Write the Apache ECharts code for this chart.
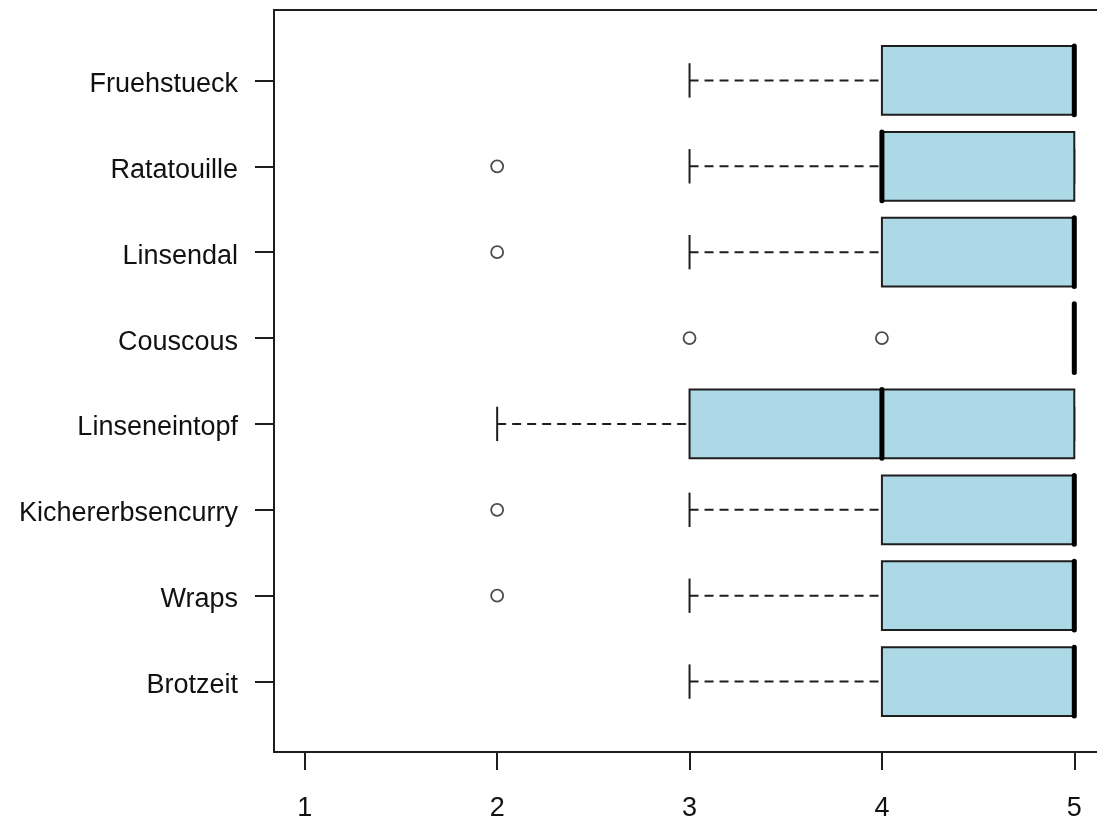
<!DOCTYPE html>
<html>
<head>
<meta charset="utf-8">
<script src="https://cdn.jsdelivr.net/npm/echarts@6/dist/echarts.min.js"></script>
<style>
  html, body { margin: 0; padding: 0; background: #ffffff; }
  #chart { width: 1097px; height: 822px; }
</style>
</head>
<body>
<div id="chart"></div>
<script>
// Ratings per dish (1-5), listed bottom to top
const categories = ['Brotzeit', 'Wraps', 'Kichererbsencurry', 'Linseneintopf', 'Couscous', 'Linsendal', 'Ratatouille', 'Fruehstueck'];
const lowerWhisker  = [3, 3, 3, 2, 5, 3, 3, 3];
const lowerQuartile = [4, 4, 4, 3, 5, 4, 4, 4];
const medians       = [5, 5, 5, 4, 5, 5, 4, 5];
const upperQuartile = [5, 5, 5, 5, 5, 5, 5, 5];
const upperWhisker  = [5, 5, 5, 5, 5, 5, 5, 5];
const outlierValues = [[], [2], [2], [], [3, 4], [2], [2], []];
const xTickValues = [1, 2, 3, 4, 5];
const yTickValues = [1, 2, 3, 4, 5, 6, 7, 8];

const INK = '#1e1e1e';
const TEXT = '#111111';
const BOX_FILL = '#ADD8E6';
const FONT = '"Liberation Sans", Arial, Helvetica, sans-serif';

const boxData = categories.map((name, i) => [
  i + 1, lowerWhisker[i], lowerQuartile[i], medians[i], upperQuartile[i], upperWhisker[i]
]);

const outlierData = [];
outlierValues.forEach((vals, i) => vals.forEach(v => outlierData.push([v, i + 1])));

function renderBox(params, api) {
  const pos = api.value(0);
  const lo = api.value(1), q1 = api.value(2), med = api.value(3), q3 = api.value(4), hi = api.value(5);
  const unit = api.size([0, 1])[1];
  const half = unit * 0.4;       // box half-height
  const stapleHalf = unit * 0.2; // whisker end half-length
  const pLo = api.coord([lo, pos]);
  const pQ1 = api.coord([q1, pos]);
  const pMed = api.coord([med, pos]);
  const pQ3 = api.coord([q3, pos]);
  const pHi = api.coord([hi, pos]);
  const y = pLo[1];
  const dashStyle = { stroke: INK, lineWidth: 2, lineDash: [9, 6], fill: null };
  const solidStyle = { stroke: INK, lineWidth: 2, fill: null };
  return {
    type: 'group',
    children: [
      { type: 'line', shape: { x1: pLo[0], y1: y, x2: pQ1[0], y2: y }, style: dashStyle },
      { type: 'line', shape: { x1: pQ3[0], y1: y, x2: pHi[0], y2: y }, style: dashStyle },
      { type: 'line', shape: { x1: pLo[0], y1: y - stapleHalf, x2: pLo[0], y2: y + stapleHalf }, style: solidStyle },
      { type: 'line', shape: { x1: pHi[0], y1: y - stapleHalf, x2: pHi[0], y2: y + stapleHalf }, style: solidStyle },
      {
        type: 'rect',
        shape: { x: pQ1[0], y: y - half, width: pQ3[0] - pQ1[0], height: 2 * half },
        style: { fill: BOX_FILL, stroke: INK, lineWidth: 2 }
      },
      {
        type: 'line',
        shape: { x1: pMed[0], y1: y - half, x2: pMed[0], y2: y + half },
        style: { stroke: '#000000', lineWidth: 5, lineCap: 'round', fill: null }
      }
    ]
  };
}

const frameLine = { show: true, lineStyle: { color: INK, width: 2 } };

const chart = echarts.init(document.getElementById('chart'), null, { renderer: 'canvas' });
chart.setOption({
  animation: false,
  backgroundColor: '#ffffff',
  grid: { left: 274, top: 10, right: 0, height: 742, show: false },
  xAxis: [
    {
      type: 'value', min: 0.84, max: 5.118, position: 'bottom',
      axisLine: frameLine,
      splitLine: { show: false },
      axisTick: { show: true, customValues: xTickValues, length: 18, lineStyle: { color: INK, width: 2 } },
      axisLabel: { customValues: xTickValues, margin: 43, fontSize: 27, color: TEXT, fontFamily: FONT }
    },
    {
      type: 'value', min: 0.84, max: 5.118, position: 'top',
      axisLine: frameLine,
      splitLine: { show: false },
      axisTick: { show: false },
      axisLabel: { show: false }
    }
  ],
  yAxis: {
    type: 'value', min: 0.18, max: 8.82,
    axisLine: frameLine,
    splitLine: { show: false },
    axisTick: { show: true, customValues: yTickValues, length: 19, lineStyle: { color: INK, width: 2 } },
    axisLabel: {
      customValues: yTickValues, margin: 36, fontSize: 27, color: TEXT, fontFamily: FONT,
      formatter: v => '{n|' + categories[Math.round(v) - 1] + '}',
      rich: { n: { fontSize: 27, color: TEXT, fontFamily: FONT, padding: [8, 0, 0, 0] } }
    }
  },
  series: [
    {
      type: 'custom',
      renderItem: renderBox,
      data: boxData,
      encode: { x: [1, 2, 3, 4, 5], y: 0 },
      clip: false,
      z: 2
    },
    {
      type: 'scatter',
      data: outlierData,
      symbol: 'circle',
      symbolSize: 12,
      itemStyle: { color: '#ffffff', borderColor: INK, borderWidth: 1.8 },
      z: 3
    }
  ]
});
</script>
</body>
</html>
